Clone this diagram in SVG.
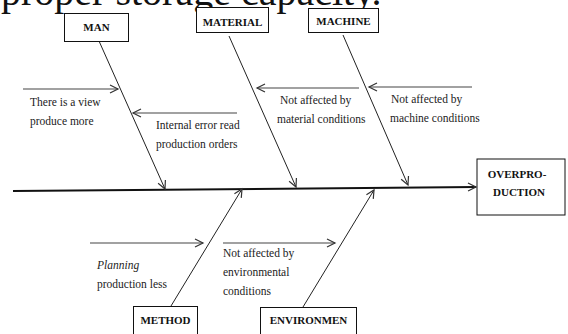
<svg xmlns="http://www.w3.org/2000/svg" width="568" height="334" viewBox="0 0 568 334">
<defs>
<marker id="ah" markerUnits="userSpaceOnUse" markerWidth="12" markerHeight="12" refX="9" refY="5" orient="auto" overflow="visible">
<path d="M1,1 L9,5 L1,9" fill="none" stroke="#333" stroke-width="1.2"/>
</marker>
<style>
.box{fill:#fff;stroke:#111;stroke-width:1}
.bt{font-family:"Liberation Serif","Times New Roman",serif;font-weight:bold;font-size:11px;fill:#111;text-anchor:middle}
.t{font-family:"Liberation Serif","Times New Roman",serif;font-size:11.5px;fill:#222}
.bone{stroke:#222;stroke-width:1;fill:none}
.arr{stroke:#444;stroke-width:1.2;fill:none}
</style>
</defs>
<rect width="568" height="334" fill="#fff"/>
<text x="1" y="5" style="font-family:'Liberation Serif','Times New Roman',serif;font-size:40px;fill:#111">proper storage capacity.</text>
<g id="connectors">
<line x1="13" y1="191" x2="476" y2="187" stroke="#111" stroke-width="2" marker-end="url(#ah)"/>
<line class="bone" x1="99" y1="41" x2="165" y2="189" marker-end="url(#ah)"/>
<line class="bone" x1="229" y1="36" x2="296" y2="187" marker-end="url(#ah)"/>
<line class="bone" x1="343" y1="35" x2="408" y2="185" marker-end="url(#ah)"/>
<line class="bone" x1="171" y1="306" x2="242" y2="189" marker-end="url(#ah)"/>
<line class="bone" x1="303" y1="307" x2="374" y2="190" marker-end="url(#ah)"/>
<line class="arr" x1="23" y1="89" x2="118" y2="89" marker-end="url(#ah)"/>
<line class="arr" x1="237" y1="113" x2="133" y2="113" stroke-width="2" stroke="#555" marker-end="url(#ah)"/>
<line class="arr" x1="359" y1="88" x2="257" y2="88" marker-end="url(#ah)"/>
<line class="arr" x1="472" y1="87" x2="369" y2="87" marker-end="url(#ah)"/>
<line class="arr" x1="90" y1="243" x2="203" y2="243" marker-end="url(#ah)"/>
<line class="arr" x1="223" y1="243" x2="335" y2="243" marker-end="url(#ah)"/>
</g>
<g id="man"><rect class="box" x="64.5" y="13.5" width="64" height="28"/><text class="bt" x="96.5" y="31">MAN</text></g>
<g id="material"><rect class="box" x="196.5" y="7.5" width="72" height="25"/><text class="bt" x="232.5" y="25.5">MATERIAL</text></g>
<g id="machine"><rect class="box" x="308.5" y="8.5" width="70" height="24"/><text class="bt" x="343.5" y="25">MACHINE</text></g>
<g id="overproduction"><rect class="box" x="477" y="159" width="88" height="56" stroke-width="2"/><text class="bt" x="517" y="178">OVERPRO-</text><text class="bt" x="519" y="196">DUCTION</text></g>
<g id="method"><rect class="box" x="133.5" y="306.5" width="64" height="32"/><text class="bt" x="165.5" y="324">METHOD</text></g>
<g id="environment"><rect class="box" x="260.5" y="307.5" width="96" height="32"/><text class="bt" x="308.5" y="324">ENVIRONMEN</text></g>
<g id="labels">
<text class="t" x="30" y="106">There is a view</text>
<text class="t" x="30" y="125">produce more</text>
<text class="t" x="156" y="129">Internal error read</text>
<text class="t" x="156" y="148">production orders</text>
<text class="t" x="280" y="104">Not affected by</text>
<text class="t" x="277" y="123">material conditions</text>
<text class="t" x="391" y="103">Not affected by</text>
<text class="t" x="390" y="122">machine conditions</text>
<text class="t" x="97" y="269" font-style="italic">Planning</text>
<text class="t" x="97" y="288">production less</text>
<text class="t" x="223" y="257">Not affected by</text>
<text class="t" x="223" y="276">environmental</text>
<text class="t" x="223" y="295">conditions</text>
</g>
</svg>
